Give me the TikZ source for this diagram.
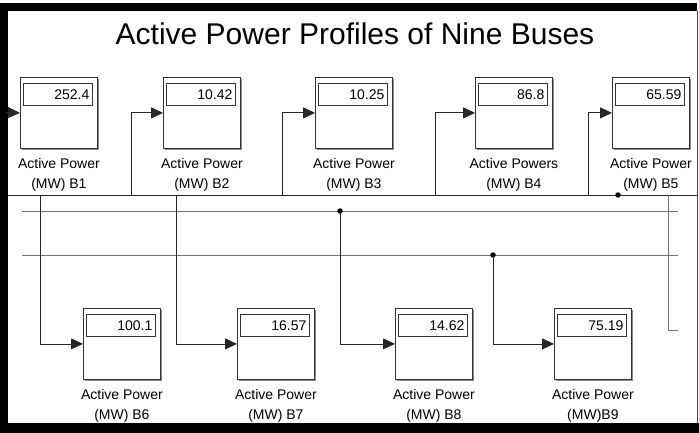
\documentclass[tikz,border=0pt]{standalone}
\usepackage{fontspec}
\setmainfont{Liberation Sans}
\usetikzlibrary{arrows.meta,shadows}
\begin{document}
\begin{tikzpicture}[x=1pt,y=-1pt,
  dispbox/.style={draw=black!80, fill=white, minimum width=77pt, minimum height=71pt,
    inner sep=0pt, line width=0.8pt, anchor=north west,
    drop shadow={shadow xshift=2pt, shadow yshift=-2pt, fill=black!45, opacity=1}},
  readout/.style={draw=black!80, line width=0.8pt, text width=63pt, minimum height=22pt,
    align=right, inner sep=3pt, anchor=north west, font=\fontsize{14}{16}\selectfont},
  caption/.style={anchor=north, align=center, inner sep=0pt, font=\fontsize{14}{20}\selectfont},
  bus/.style={draw=black!55, line width=1pt},
  wire/.style={draw=black!85, line width=0.8pt},
  feed/.style={wire, -{Triangle[length=12pt,width=11pt]}},
  tap/.style={circle, fill=black, inner sep=0pt, minimum size=5.5pt}
]
\useasboundingbox (0,0) rectangle (699,433);
\fill[white] (0,0) rectangle (699,433);

% frame
\fill[black] (0,3) rectangle (8,433);
\fill[black] (0,3) rectangle (697,11);
\fill[black] (0,423) rectangle (699,433);
\draw[black!70, line width=1pt] (697,11) -- (697,423);

% title
\node[font=\fontsize{30}{36}\selectfont, anchor=base, inner sep=0pt] (title) at (355,45)
  {Active Power Profiles of Nine Buses};

% bus lines
\coordinate (busA-l) at (8,195);   \coordinate (busA-r) at (697,195);
\coordinate (busB-l) at (22,211);  \coordinate (busB-r) at (678,211);
\coordinate (busC-l) at (22,255);  \coordinate (busC-r) at (678,255);
\draw[wire] (busA-l) -- (busA-r);
\draw[bus] (busB-l) -- (busB-r);
\draw[bus] (busC-l) -- (busC-r);

% display blocks, top row
\node[dispbox] (b1) at (20,77) {};
\node[dispbox] (b2) at (163,77) {};
\node[dispbox] (b3) at (315,77) {};
\node[dispbox] (b4) at (475,77) {};
\node[dispbox] (b5) at (612,77) {};
% display blocks, bottom row
\node[dispbox] (b6) at (83,308) {};
\node[dispbox] (b7) at (237,308) {};
\node[dispbox] (b8) at (395,308) {};
\node[dispbox] (b9) at (554,308) {};

% readouts
\foreach \b/\v in {b1/252.4, b2/10.42, b3/10.25, b4/86.8, b5/65.59,
                   b6/100.1, b7/16.57, b8/14.62, b9/75.19}{
  \node[readout] (\b-val) at ([xshift=3pt,yshift=-6pt]\b.north west) {\v};
}

% captions
\node[caption] (c1) at ([yshift=-9pt]b1.south) {Active Power\\(MW) B1};
\node[caption] (c2) at ([yshift=-9pt]b2.south) {Active Power\\(MW) B2};
\node[caption] (c3) at ([yshift=-9pt]b3.south) {Active Power\\(MW) B3};
\node[caption] (c4) at ([yshift=-9pt]b4.south) {Active Powers\\(MW) B4};
\node[caption] (c5) at ([yshift=-9pt]b5.south) {Active Power\\(MW) B5};
\node[caption] (c6) at ([yshift=-9pt]b6.south) {Active Power\\(MW) B6};
\node[caption] (c7) at ([yshift=-9pt]b7.south) {Active Power\\(MW) B7};
\node[caption] (c8) at ([yshift=-9pt]b8.south) {Active Power\\(MW) B8};
\node[caption] (c9) at ([yshift=-9pt]b9.south) {Active Power\\(MW)B9};

% feeds into the top row
\coordinate (in1) at (6,112.5);
\coordinate (t2) at (131,195);
\coordinate (t3) at (282,195);
\coordinate (t4) at (435,195);
\coordinate (t5) at (588,195);
\draw[feed] (in1) -- (b1.west);
\draw[feed] (t2) |- (b2.west);
\draw[feed] (t3) |- (b3.west);
\draw[feed] (t4) |- (b4.west);
\draw[feed] (t5) |- (b5.west);

% feeds into the bottom row
\coordinate (d6) at (40,195);
\coordinate (d7) at (176,195);
\node[tap] (d8) at (340,211) {};
\node[tap] (d9) at (493,255) {};
\draw[feed] (d6) |- (b6.west);
\draw[feed] (d7) |- (b7.west);
\draw[feed] (d8.center) |- (b8.west);
\draw[feed] (d9.center) |- (b9.west);

% branch leaving to the right
\node[tap] (j5) at (618,195) {};
\coordinate (r1) at (668,195);
\coordinate (r2) at (678,330);
\draw[bus] (r1) |- (r2);
\end{tikzpicture}
\end{document}
